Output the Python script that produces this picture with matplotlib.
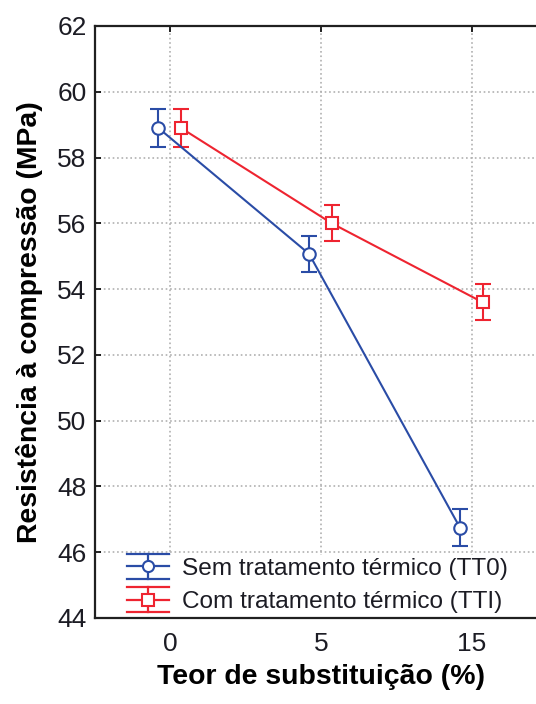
import matplotlib
matplotlib.use("Agg")
import matplotlib.pyplot as plt
from matplotlib.lines import Line2D
from matplotlib.legend_handler import HandlerBase
import numpy as np

# data
categories = ["0", "5", "15"]
tt0_mean = [58.9, 55.07, 46.75]
tt0_err = [0.57, 0.54, 0.56]
tti_mean = [58.9, 56.0, 53.6]
tti_err = [0.57, 0.55, 0.55]
labels = ["Sem tratamento térmico (TT0)", "Com tratamento térmico (TTI)"]

blue = "#2a4ca6"
red = "#ee2430"
txt = "#1c1c24"

plt.rcParams["font.family"] = ["Liberation Sans", "DejaVu Sans"]


class ErrHandler(HandlerBase):
    # statistica-like legend key: three horizontal strokes plus marker
    def __init__(self, color, marker):
        super().__init__()
        self.color = color
        self.marker = marker

    def create_artists(self, legend, orig_handle, xdescent, ydescent,
                       width, height, fontsize, trans):
        cy = height / 2 - ydescent
        dy = height * 0.72
        arts = []
        for y in (cy - dy, cy, cy + dy):
            arts.append(Line2D([-xdescent, width - xdescent], [y, y],
                               color=self.color, lw=1.6, transform=trans))
        xm = width / 2 - xdescent
        arts.append(Line2D([xm, xm], [cy - dy, cy + dy], color=self.color,
                           lw=1.6, transform=trans))
        arts.append(Line2D([xm], [cy], marker=self.marker, ms=8,
                           mfc="white", mec=self.color, mew=1.5,
                           transform=trans))
        return arts


fig = plt.figure(figsize=(5.36, 7.04), dpi=100)
ax = fig.add_axes([0.1772, 0.1222, 0.844, 0.8409])

x = np.arange(len(categories))
h1 = ax.errorbar(x - 0.08, tt0_mean, yerr=tt0_err, color=blue, lw=1.5,
                 marker="o", ms=9, mfc="white", mec=blue, mew=1.5,
                 capsize=6, capthick=1.5, elinewidth=1.5, zorder=3)
h2 = ax.errorbar(x + 0.07, tti_mean, yerr=tti_err, color=red, lw=1.5,
                 marker="s", ms=9, mfc="white", mec=red, mew=1.5,
                 capsize=6, capthick=1.5, elinewidth=1.5, zorder=3)

ax.set_xlim(-0.5, 2.5)
ax.set_ylim(44, 62)
ax.set_xticks(x)
ax.set_xticklabels(categories)
ax.set_yticks(np.arange(44, 63, 2))
ax.tick_params(direction="in", top=True, right=True, labelsize=19,
               length=4, width=1.2, labelcolor=txt)
ax.tick_params(axis="x", pad=10)
ax.tick_params(axis="y", pad=6)
ax.grid(True, color="#b0b0b0", ls=":", lw=1.2)
for s in ax.spines.values():
    s.set_linewidth(1.6)
    s.set_color("#202020")
    s.set_zorder(6)

ax.set_xlabel("Teor de substituição (%)", fontsize=20.4, fontweight="bold",
              labelpad=6, color="black")
ax.set_ylabel("Resistência à compressão (MPa)", fontsize=20.4,
              fontweight="bold", labelpad=10, color="black")

leg = ax.legend([h1, h2], labels, loc="lower left", fontsize=17.6,
                handler_map={h1: ErrHandler(blue, "o"), h2: ErrHandler(red, "s")},
                frameon=True, framealpha=1, edgecolor="white", fancybox=False,
                handlelength=1.72, handletextpad=0.53, labelspacing=0.45,
                borderpad=0.1, borderaxespad=0.0,
                bbox_to_anchor=(0.065, 0.004), labelcolor=txt)

fig.savefig("out.png", dpi=100)
